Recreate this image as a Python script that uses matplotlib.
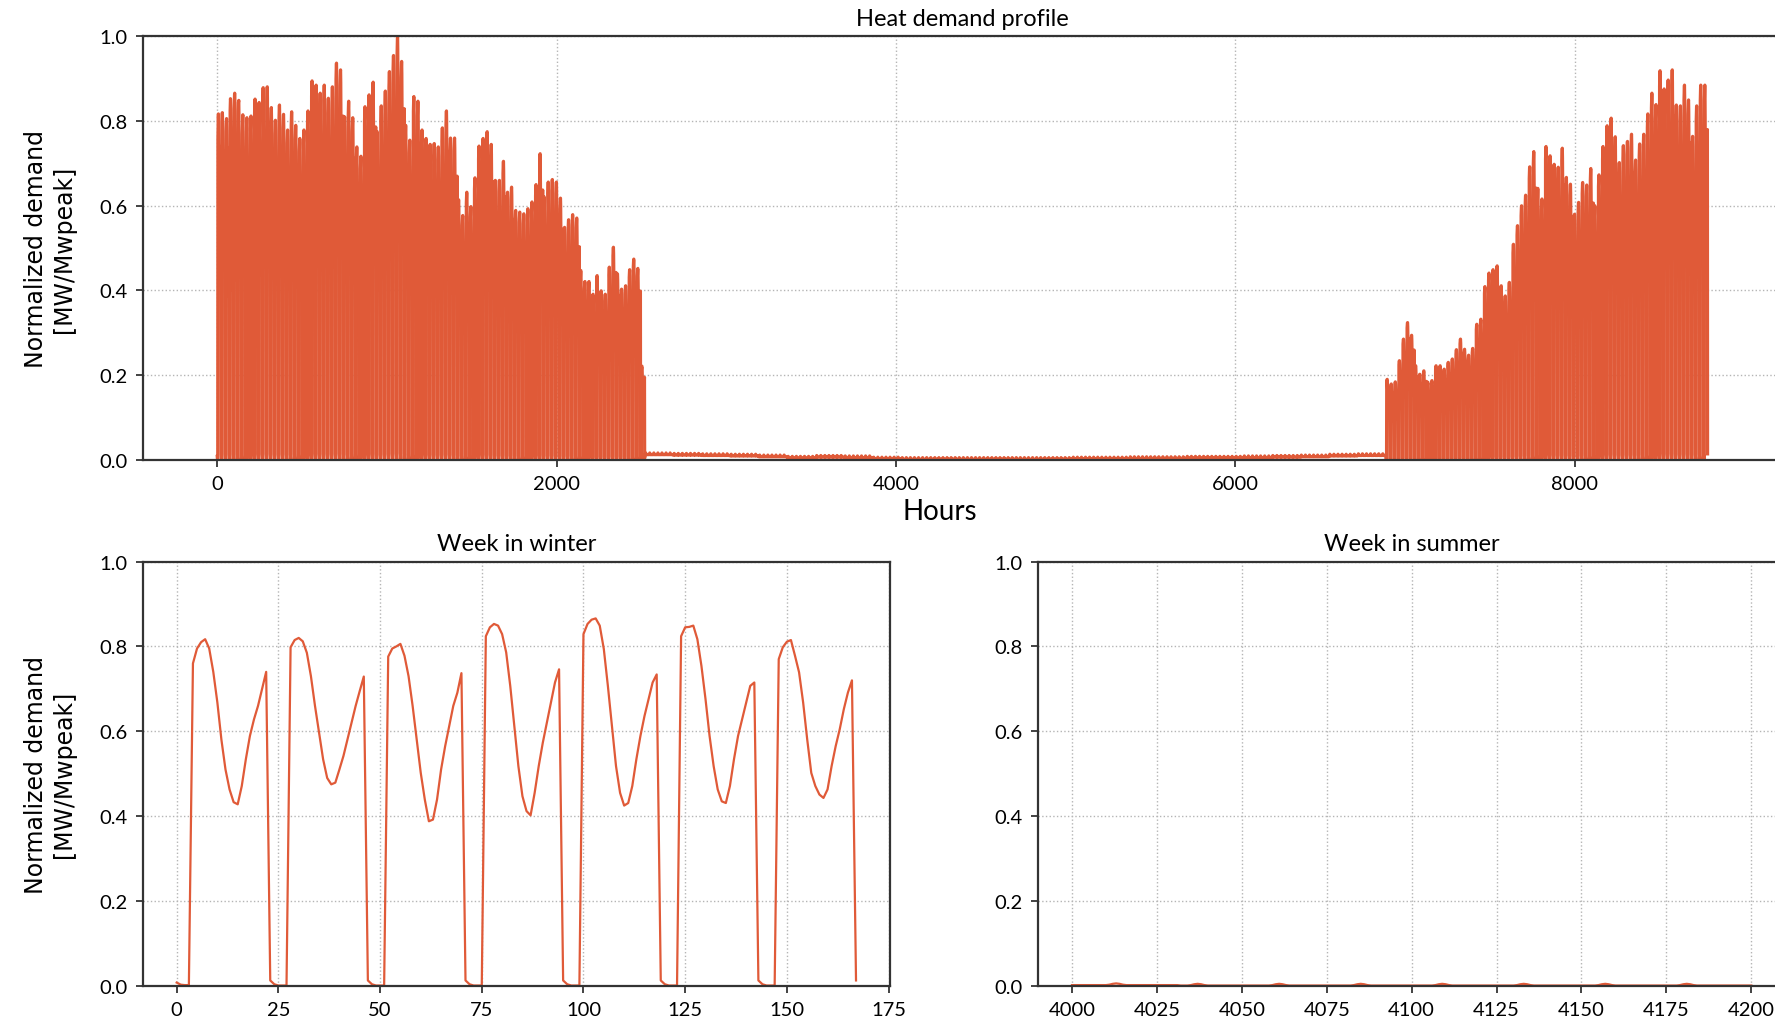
"""Annual heat demand profile with a winter week and a summer week close-up."""

import matplotlib
matplotlib.use("Agg")

import matplotlib.pyplot as plt
import numpy as np

# first week of the year, hourly, normalized to the annual peak
winter_week = np.array([
    0.008, 0.003, 0.002, 0.002, 0.760, 0.795, 0.810, 0.817, 0.795, 0.740, 0.668, 0.580,
    0.510, 0.463, 0.433, 0.428, 0.471, 0.534, 0.589, 0.628, 0.660, 0.700, 0.740, 0.013,
    0.004, 0.001, 0.001, 0.001, 0.798, 0.815, 0.820, 0.812, 0.785, 0.730, 0.660, 0.597,
    0.534, 0.490, 0.475, 0.479, 0.510, 0.542, 0.581, 0.620, 0.660, 0.695, 0.729, 0.013,
    0.004, 0.001, 0.001, 0.001, 0.776, 0.795, 0.800, 0.806, 0.778, 0.730, 0.660, 0.581,
    0.502, 0.439, 0.388, 0.392, 0.439, 0.510, 0.565, 0.613, 0.660, 0.691, 0.737, 0.013,
    0.004, 0.001, 0.001, 0.001, 0.824, 0.845, 0.853, 0.849, 0.829, 0.786, 0.707, 0.613,
    0.518, 0.447, 0.412, 0.402, 0.455, 0.518, 0.573, 0.620, 0.668, 0.715, 0.746, 0.013,
    0.004, 0.001, 0.001, 0.001, 0.829, 0.853, 0.863, 0.866, 0.849, 0.794, 0.707, 0.613,
    0.518, 0.455, 0.425, 0.431, 0.471, 0.534, 0.589, 0.636, 0.676, 0.715, 0.734, 0.013,
    0.004, 0.001, 0.001, 0.001, 0.824, 0.845, 0.846, 0.849, 0.817, 0.754, 0.676, 0.589,
    0.518, 0.463, 0.435, 0.431, 0.471, 0.534, 0.589, 0.628, 0.668, 0.707, 0.715, 0.013,
    0.004, 0.001, 0.001, 0.001, 0.770, 0.798, 0.811, 0.815, 0.778, 0.739, 0.668, 0.581,
    0.502, 0.471, 0.451, 0.443, 0.463, 0.518, 0.565, 0.605, 0.652, 0.691, 0.720, 0.013,
])

# daily morning peaks, days 7..104 (end of the first heating season)
spring_peaks = [
    0.808, 0.812, 0.852, 0.844, 0.879, 0.881, 0.832, 0.802, 0.838, 0.816,
    0.779, 0.822, 0.790, 0.759, 0.779, 0.824, 0.895, 0.885, 0.866, 0.885,
    0.854, 0.881, 0.937, 0.921, 0.810, 0.847, 0.808, 0.739, 0.717, 0.834,
    0.862, 0.892, 0.775, 0.836, 0.871, 0.917, 0.955, 1.000, 0.941, 0.790,
    0.755, 0.858, 0.847, 0.779, 0.759, 0.745, 0.747, 0.739, 0.784, 0.824,
    0.760, 0.760, 0.614, 0.577, 0.632, 0.598, 0.666, 0.741, 0.759, 0.775,
    0.745, 0.660, 0.660, 0.705, 0.632, 0.644, 0.589, 0.585, 0.581, 0.593,
    0.609, 0.650, 0.723, 0.621, 0.656, 0.662, 0.656, 0.618, 0.549, 0.567,
    0.579, 0.571, 0.447, 0.421, 0.421, 0.391, 0.435, 0.399, 0.391, 0.455,
    0.502, 0.439, 0.403, 0.411, 0.449, 0.474, 0.452, 0.221,
]

# summer: weekly base load (26 weeks from day 105) plus a small morning bump
summer_base = [
    0.012, 0.011, 0.010, 0.009, 0.007, 0.004, 0.006, 0.005, 0.002, 0.001,
    0.001, 0.001, 0.001, 0.001, 0.001, 0.002, 0.002, 0.003, 0.003, 0.004,
    0.004, 0.005, 0.006, 0.007, 0.009, 0.010,
]
summer_bump = [
    0.000, 0.000, 0.000, 0.001, 0.003, 0.004, 0.003, 0.001, 0.000, 0.000, 0.000, 0.000,
    0.000, 0.000, 0.000, 0.000, 0.000, 0.000, 0.000, 0.000, 0.000, 0.000, 0.000, 0.000,
]

# daily morning peaks, days 287..365 (second heating season)
autumn_peaks = [
    0.190, 0.179, 0.184, 0.234, 0.285, 0.324, 0.294, 0.222, 0.202, 0.210,
    0.183, 0.187, 0.222, 0.222, 0.214, 0.230, 0.238, 0.260, 0.285, 0.261,
    0.247, 0.263, 0.320, 0.332, 0.409, 0.441, 0.449, 0.458, 0.411, 0.387,
    0.419, 0.509, 0.553, 0.600, 0.625, 0.692, 0.728, 0.641, 0.616, 0.740,
    0.718, 0.698, 0.691, 0.736, 0.667, 0.651, 0.580, 0.608, 0.655, 0.649,
    0.688, 0.600, 0.673, 0.740, 0.789, 0.807, 0.763, 0.702, 0.742, 0.752,
    0.769, 0.708, 0.746, 0.769, 0.817, 0.866, 0.839, 0.919, 0.876, 0.897,
    0.921, 0.838, 0.836, 0.885, 0.850, 0.764, 0.836, 0.885, 0.885,
]

y_ticks = [0.0, 0.2, 0.4, 0.6, 0.8, 1.0]
summer_ticks = [4000, 4025, 4050, 4075, 4100, 4125, 4150, 4175, 4200]

COLOR = "#e05a38"
YLABEL = "Normalized demand\n[MW/Mwpeak]"

# typical heating day: the winter week days, each scaled to its own peak
days = winter_week.reshape(7, 24)
day_shape = (days / days.max(axis=1, keepdims=True)).mean(axis=0)
day_shape /= day_shape.max()

profile = list(winter_week)
for peak in spring_peaks:
    profile.extend(day_shape * peak)
for base in summer_base:
    for _ in range(7):
        profile.extend(base + np.array(summer_bump))
for peak in autumn_peaks:
    profile.extend(day_shape * peak)
demand = np.array(profile)
hours = np.arange(len(demand))

plt.rcParams["font.family"] = ["Lato", "DejaVu Sans"]

fig = plt.figure(figsize=(17.75, 10.2), dpi=100)
ax_year = fig.add_axes([0.0804, 0.5483, 0.9236, 0.4150])
ax_win = fig.add_axes([0.0804, 0.0324, 0.4210, 0.4161])
ax_sum = fig.add_axes([0.5848, 0.0324, 0.4210, 0.4161])

# thicker line on the year view so the daily on/off switching fills in
ax_year.plot(hours, demand, color=COLOR, lw=2.3)
ax_win.plot(hours[:168], demand[:168], color=COLOR, lw=1.6)
ax_sum.plot(hours[4000:4201], demand[4000:4201], color=COLOR, lw=1.6)
ax_sum.set_xticks(summer_ticks)

for ax, title in [(ax_year, "Heat demand profile"),
                  (ax_win, "Week in winter"),
                  (ax_sum, "Week in summer")]:
    ax.set_ylim(0, 1)
    ax.set_yticks(y_ticks)
    ax.set_yticklabels([f"{v:.1f}" for v in y_ticks])
    ax.set_title(title, fontsize=17, pad=8)
    ax.grid(True, linestyle=":", color="#b5b5b5", lw=1.0)
    ax.set_axisbelow(True)
    ax.tick_params(direction="out", length=5, width=1.2, labelsize=14.5,
                   pad=6, color="#222222")
    for spine in ax.spines.values():
        spine.set_color("#333333")
        spine.set_linewidth(1.6)

ax_year.set_ylabel(YLABEL, fontsize=17, family="DejaVu Sans")
ax_year.yaxis.set_label_coords(-0.0407, 0.5)
ax_win.set_ylabel(YLABEL, fontsize=17, family="DejaVu Sans")
ax_win.yaxis.set_label_coords(-0.0894, 0.5)

ax_year.set_xlabel("Hours", fontsize=20)
ax_year.xaxis.set_label_coords(0.4864, -0.09)

fig.savefig("out.png", dpi=100)
